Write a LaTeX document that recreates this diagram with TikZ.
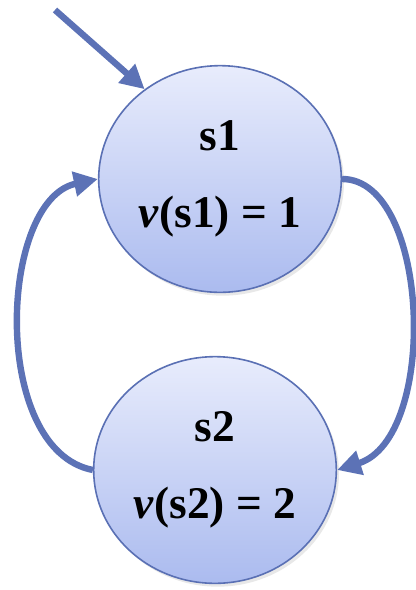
\documentclass[tikz,border=0pt]{standalone}
\usepackage{fontspec}
\setmainfont{Liberation Serif}
\usepackage{xcolor}
\usepackage{tikz}
\usetikzlibrary{arrows.meta,shapes.geometric,shadows}
\definecolor{edge}{HTML}{5C72B6}
\definecolor{rim}{HTML}{5A70B4}
\definecolor{filltop}{HTML}{E8ECFC}
\definecolor{fillbot}{HTML}{ABBBEF}

\begin{document}
\begin{tikzpicture}[x=0.75pt,y=-0.75pt,
  state/.style={ellipse,draw=rim,line width=1.2pt,minimum width=182pt,minimum height=170pt,inner sep=0pt,
    top color=filltop,bottom color=fillbot,align=center,
    font=\bfseries\fontsize{34}{58}\selectfont,
    drop shadow={opacity=0.18,shadow xshift=2pt,shadow yshift=-2.5pt}},
  link/.style={edge,line width=4.8pt,-{Triangle[length=18pt,width=18pt]}}]
  \useasboundingbox (0,0) rectangle (415,590);
  \node[state] (s1) at (220,179) {s1\\\textit{v}(s1) = 1};
  \node[state] (s2) at (215,470) {s2\\\textit{v}(s2) = 2};
  \coordinate (init) at (55,10);
  \draw[link] (init) -- (s1.130);
  \draw[link] (s1.east) .. controls +(88,0) and +(102,-32) .. (s2.east);
  \draw[link] (s2.west) .. controls +(-103,-20) and +(-99,21) .. (s1.west);
\end{tikzpicture}
\end{document}
